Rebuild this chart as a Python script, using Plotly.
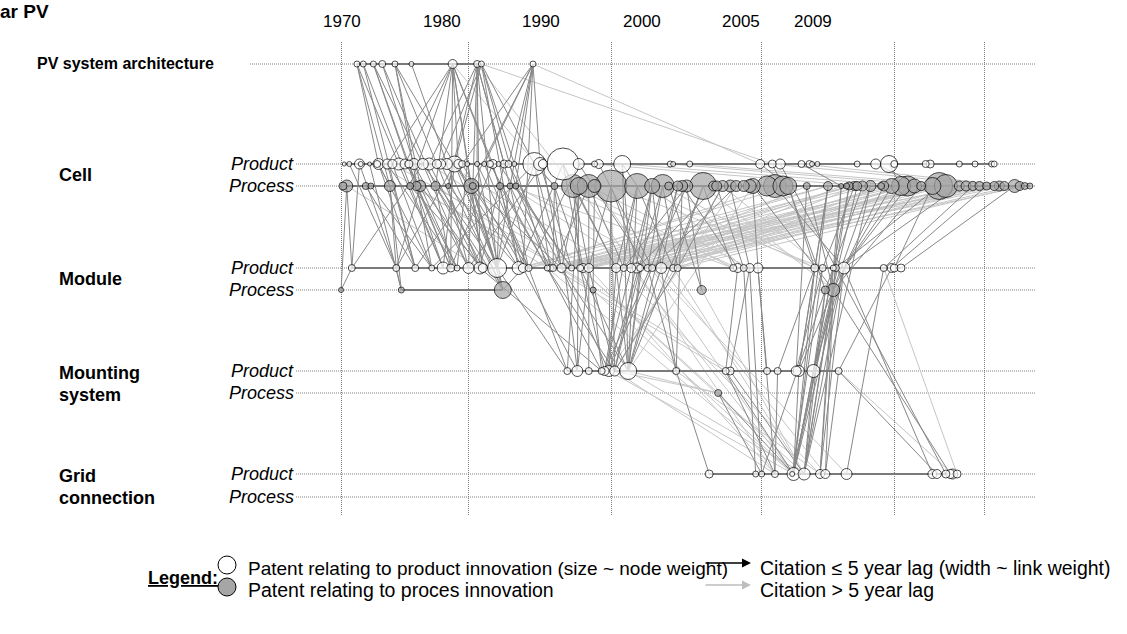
import numpy as np
import plotly.graph_objects as go

W, H = 1127, 634
ML, MR, MT, MB = 250, 92, 42, 119
FONT = "Liberation Sans, Arial, sans-serif"

# ---------------- x scale (year -> timeline position) ----------------
YEAR_ANCHORS = [1965, 1970, 1980, 1990, 2000, 2005, 2009, 2011]
POS_ANCHORS = [-63.4, 0, 126.8, 270, 420, 552.6, 642.3, 693.3]
GRID_YEARS = [1970, 1980, 1990, 2000, 2005, 2009]
TICK_LABELS = ["1970", "1980", "1990", "2000", "2005", "2009"]
LABEL_POS = [0.3, 100.3, 199.3, 300.3, 399.3, 471.3]

# ---------------- rows ----------------
ROW_LEVEL = {"A": 45.1, "CP": 35.1, "CR": 32.9, "MP": 24.7, "MR": 22.5,
             "SP": 14.4, "SR": 12.2, "GP": 4.1, "GR": 1.8}

# ---------------- nodes (year, size ~ node weight) ----------------
ARCH_Y = [1971.2, 1971.7, 1972.5, 1973.2, 1974.2, 1975.5, 1978.75, 1980.6, 1980.9, 1984.5]
ARCH_S = [6, 6, 6, 7, 6, 5, 9, 7, 6, 6]

CELL_PROD_Y = [1970.2, 1970.6, 1971.4, 1971.5, 1972.2, 1972.8, 1972.9, 1973.6, 1974.0, 1974.5,
               1975.0, 1975.3, 1975.7, 1976.4, 1976.9, 1977.5, 1977.8, 1978.3, 1978.9, 1979.2,
               1979.5, 1979.9, 1980.6, 1981.1, 1981.5, 1981.7, 1982.1, 1982.5, 1982.8, 1983.2,
               1984.6, 1985.0, 1985.2, 1986.6, 1987.7, 1988.8, 1989.1, 1990.7, 1993.9, 1994.1,
               1995.2, 1999.9, 2000.4, 2000.7, 2001.5, 2001.8, 2001.9, 2002.1, 2003.6, 2004.3,
               2004.8, 2005.0, 2006.4, 2006.6, 2007.9, 2008.6, 2009.3, 2009.4]
CELL_PROD_S = [4, 5, 10, 5, 4, 7, 11, 10, 9, 12,
               10, 8, 11, 11, 12, 9, 10, 11, 16, 9,
               7, 5, 5, 5, 7, 9, 5, 8, 7, 5,
               23, 13, 9, 32, 11, 6, 9, 17, 6, 5,
               6, 9, 8, 10, 7, 7, 5, 5, 6, 10,
               17, 7, 7, 8, 6, 6, 6, 6]

CELL_PROC_Y = [1970.1, 1970.4, 1971.9, 1972.3, 1973.8, 1975.4, 1975.9, 1976.2, 1977.4, 1978.4,
               1980.2, 1980.3, 1982.2, 1982.9, 1983.3, 1986.0, 1987.3, 1987.7, 1988.4, 1988.8,
               1989.95, 1991.7, 1992.7, 1993.4, 1993.8, 1994.4, 1994.7, 1995.0, 1996.1, 1996.8,
               1997.0, 1997.4, 1997.9, 1998.3, 1998.8, 1999.2, 1999.4, 2000.2, 2000.5, 2000.8,
               2001.0, 2001.7, 2002.5, 2003.0, 2003.2, 2003.3, 2003.5, 2003.6, 2003.8, 2004.1,
               2004.5, 2004.6, 2004.9, 2005.3, 2005.6, 2005.9, 2006.2, 2006.7, 2007.0, 2007.3,
               2007.9, 2008.2, 2008.5, 2008.8, 2009.1, 2009.4, 2009.6, 2009.8, 2010.2, 2010.4,
               2010.6, 2010.8]
CELL_PROC_S = [8, 12, 7, 6, 11, 7, 9, 11, 9, 5,
               15, 7, 7, 6, 6, 7, 23, 17, 23, 13,
               32, 25, 15, 23, 8, 10, 11, 12, 27, 10,
               10, 11, 12, 11, 11, 13, 15, 20, 23, 20,
               17, 7, 9, 5, 6, 8, 9, 9, 10, 11,
               7, 10, 15, 19, 20, 14, 9, 17, 27, 23,
               10, 10, 9, 9, 8, 9, 10, 9, 13, 9,
               7, 6]

MOD_PROD_Y = [1970.8, 1974.3, 1975.8, 1977.1, 1978.0, 1978.6, 1979.1, 1980.0, 1980.8, 1981.0,
              1982.0, 1983.5, 1983.8, 1984.2, 1985.5, 1985.7, 1985.9, 1986.5, 1987.2, 1987.8,
              1988.0, 1988.4, 1990.3, 1990.8, 1991.3, 1991.7, 1991.9, 1992.4, 1992.7, 1993.3,
              1994.1, 1994.4, 1998.1, 1998.4, 1998.8, 1999.2, 1999.75, 2002.0, 2002.3, 2002.7,
              2002.8, 2003.1, 2004.6, 2004.9, 2005.0, 2005.3]
MOD_PROD_S = [7, 7, 7, 6, 12, 8, 6, 11, 12, 9,
              19, 13, 9, 7, 6, 7, 7, 9, 6, 7,
              9, 9, 9, 7, 9, 10, 7, 7, 7, 11,
              7, 7, 7, 9, 7, 9, 10, 8, 7, 6,
              7, 12, 7, 9, 8, 8]

MOD_PROC_Y = [1969.95, 1974.7, 1982.4, 1988.7, 1996.0, 2002.4, 2002.7]
MOD_PROC_S = [5, 6, 17, 6, 9, 8, 13]

MOUNT_PROD_Y = [1986.9, 1987.6, 1988.4, 1989.3, 1989.5, 1989.8, 1990.2, 1991.1, 1994.3,
                1997.6, 1997.9, 2000.2, 2000.6, 2001.3, 2001.4, 2001.95, 2002.9]
MOUNT_PROD_S = [7, 11, 7, 7, 9, 11, 10, 17, 7, 7, 8, 7, 7, 10, 11, 13, 7]
MOUNT_PROC_Y = [1997.1]
MOUNT_PROC_S = [7]

GRID_PROD_Y = [1996.5, 1999.6, 2000.0, 2000.5, 2001.2, 2001.15, 2001.6, 2002.2, 2002.4, 2003.2,
               2006.7, 2006.9, 2007.3, 2007.5, 2007.6, 2007.8]
GRID_PROD_S = [8, 6, 6, 7, 13, 5, 12, 9, 9, 11, 9, 9, 8, 9, 10, 8]

# ---------------- within-row main-path segments ----------------
CHAINS = [("A", 1971.2, 1980.9), ("CP", 1970.2, 2009.4), ("CR", 1970.1, 2010.8),
          ("MP", 1970.8, 2005.3), ("MR", 1974.7, 1982.4), ("SP", 1986.9, 2002.9),
          ("GP", 1996.5, 2007.8)]

# ---------------- citations <= 5 year lag ----------------
DARK_EDGES = [
    ("A", 1971.2, "CP", 1972.9), ("A", 1971.2, "CR", 1973.8), ("A", 1971.2, "CP", 1974.5),
    ("A", 1971.7, "CR", 1975.4), ("A", 1971.7, "MP", 1975.8), ("A", 1972.5, "CP", 1976.4),
    ("A", 1972.5, "CR", 1975.9), ("A", 1972.5, "MP", 1978.0), ("A", 1973.2, "CP", 1975.7),
    ("A", 1973.2, "CR", 1977.4), ("A", 1974.2, "CP", 1977.5), ("A", 1974.2, "CR", 1976.2),
    ("A", 1974.2, "CP", 1978.9), ("A", 1974.2, "MP", 1977.1), ("A", 1975.5, "CP", 1978.3),
    ("A", 1978.75, "CP", 1973.6), ("A", 1978.75, "CP", 1975.0), ("A", 1978.75, "CR", 1977.4),
    ("A", 1978.75, "CP", 1979.2), ("A", 1978.75, "CR", 1980.2), ("A", 1978.75, "CP", 1981.7),
    ("A", 1978.75, "CR", 1982.2), ("A", 1978.75, "MP", 1978.6), ("A", 1978.75, "MP", 1981.0),
    ("A", 1978.75, "CR", 1975.4), ("A", 1980.6, "CP", 1976.9), ("A", 1980.6, "CR", 1978.4),
    ("A", 1980.6, "CP", 1980.6), ("A", 1980.6, "CR", 1980.3), ("A", 1980.6, "CP", 1982.5),
    ("A", 1980.6, "CR", 1982.9), ("A", 1980.6, "MP", 1980.8), ("A", 1980.6, "MP", 1982.0),
    ("A", 1980.9, "CP", 1977.8), ("A", 1980.9, "CR", 1978.4), ("A", 1980.9, "CP", 1983.2),
    ("A", 1980.9, "CR", 1983.3), ("A", 1980.9, "CP", 1984.6), ("A", 1980.9, "MP", 1983.5),
    ("A", 1984.5, "CP", 1979.5), ("A", 1984.5, "CP", 1981.1), ("A", 1984.5, "CR", 1980.2),
    ("A", 1984.5, "CP", 1982.8), ("A", 1984.5, "CR", 1982.9), ("A", 1984.5, "CP", 1985.0),
    ("A", 1984.5, "MP", 1983.8), ("A", 1984.5, "CR", 1983.3),
    ("CP", 1971.4, "MP", 1970.8), ("CP", 1971.4, "MP", 1974.3), ("CR", 1970.4, "MR", 1969.95),
    ("CR", 1970.4, "MP", 1970.8), ("CP", 1972.9, "MP", 1975.8), ("CP", 1972.9, "MP", 1977.1),
    ("CR", 1973.8, "MP", 1974.3), ("CR", 1973.8, "MR", 1974.7), ("CP", 1974.5, "MP", 1978.0),
    ("CR", 1975.9, "MP", 1978.6), ("CR", 1975.9, "MP", 1979.1), ("CP", 1976.4, "MP", 1980.0),
    ("CP", 1976.4, "MP", 1982.0), ("CR", 1977.4, "MP", 1980.8), ("CR", 1977.4, "MR", 1982.4),
    ("CP", 1978.9, "MP", 1978.0), ("CP", 1978.9, "MP", 1982.0), ("CP", 1978.9, "MP", 1983.5),
    ("CR", 1980.2, "MP", 1980.0), ("CR", 1980.2, "MP", 1981.0), ("CR", 1980.2, "MP", 1982.0),
    ("CR", 1980.2, "MR", 1982.4), ("CR", 1980.2, "MP", 1984.2), ("CP", 1979.9, "MP", 1979.1),
    ("CP", 1981.7, "MP", 1978.6), ("CP", 1981.7, "MP", 1983.8), ("CR", 1982.2, "MP", 1985.5),
    ("CR", 1982.2, "MP", 1982.0), ("CP", 1982.5, "MP", 1980.8), ("CR", 1982.9, "MP", 1985.7),
    ("CR", 1982.9, "MP", 1984.2), ("CP", 1984.6, "MP", 1982.0), ("CP", 1984.6, "MP", 1986.5),
    ("CP", 1984.6, "MP", 1977.1), ("CR", 1983.3, "MP", 1987.2), ("CP", 1985.2, "MP", 1980.0),
    ("CP", 1986.6, "MP", 1983.5), ("CP", 1986.6, "MP", 1988.0), ("CR", 1986.0, "MP", 1985.9),
    ("CR", 1987.3, "MP", 1987.8), ("CR", 1987.3, "MP", 1988.4), ("CP", 1975.0, "MP", 1980.8),
    ("CR", 1971.9, "MP", 1975.8), ("CR", 1976.2, "MP", 1974.3), ("CP", 1977.8, "MR", 1982.4),
    ("CR", 1978.4, "MP", 1983.5), ("CP", 1973.6, "MP", 1979.1), ("CR", 1975.4, "MP", 1981.0),
    ("CP", 1980.6, "MP", 1984.2), ("CP", 1983.2, "MP", 1985.5), ("CR", 1980.3, "MP", 1986.5),
    ("CP", 1982.1, "MP", 1987.2), ("CR", 1988.4, "MP", 1985.9), ("CR", 1987.7, "MP", 1986.5),
    ("CP", 1987.7, "MP", 1984.2), ("CR", 1988.8, "MR", 1988.7),
    ("CP", 1970.6, "MP", 1974.3), ("CP", 1972.2, "MR", 1974.7), ("CR", 1972.3, "MP", 1977.1),
    ("CP", 1973.6, "MP", 1975.8), ("CP", 1975.3, "MP", 1978.6), ("CP", 1975.7, "MP", 1980.0),
    ("CR", 1976.2, "MP", 1979.1), ("CP", 1976.9, "MP", 1981.0), ("CP", 1977.5, "MP", 1980.8),
    ("CR", 1978.4, "MP", 1980.0), ("CP", 1979.2, "MP", 1982.0), ("CP", 1979.5, "MP", 1983.8),
    ("CR", 1980.3, "MP", 1982.0), ("CP", 1981.1, "MP", 1984.2), ("CP", 1981.5, "MP", 1985.5),
    ("CR", 1982.2, "MP", 1983.5), ("CR", 1982.9, "MP", 1982.0), ("CP", 1982.8, "MP", 1986.5),
    ("CP", 1984.6, "MP", 1985.7), ("CP", 1985.0, "MP", 1987.2), ("CR", 1983.3, "MP", 1985.9),
    ("CP", 1978.3, "MR", 1982.4), ("CP", 1980.6, "MR", 1982.4), ("CR", 1975.4, "MP", 1978.0),
    ("CP", 1974.0, "MP", 1977.1), ("CR", 1977.4, "MP", 1978.6), ("CP", 1985.2, "MP", 1986.5),
    ("CR", 1986.0, "MP", 1988.0), ("CP", 1978.9, "MP", 1974.3), ("CR", 1980.2, "MP", 1975.8),
    ("CP", 1976.4, "MP", 1970.8),
    ("MR", 1969.95, "MP", 1970.8), ("MP", 1974.3, "MR", 1974.7), ("MR", 1982.4, "MP", 1983.8),
    ("MP", 1985.5, "SP", 1989.3), ("MP", 1985.5, "SP", 1990.2), ("MP", 1986.5, "SP", 1989.8),
    ("MP", 1986.5, "SP", 1991.1), ("MP", 1987.8, "SP", 1989.5), ("MP", 1987.8, "SP", 1991.1),
    ("MP", 1988.4, "SP", 1990.2), ("MP", 1988.4, "SP", 1987.6), ("MP", 1990.3, "SP", 1989.8),
    ("MP", 1990.3, "SP", 1991.1), ("MP", 1991.3, "SP", 1989.5), ("MP", 1991.9, "SP", 1990.2),
    ("MP", 1991.9, "SP", 1991.1), ("MP", 1992.7, "SP", 1989.8), ("MP", 1993.3, "SP", 1991.1),
    ("MP", 1993.3, "SP", 1994.3), ("MP", 1994.4, "SP", 1990.2), ("MR", 1988.7, "SP", 1989.3),
    ("CR", 1987.7, "SP", 1986.9), ("CR", 1987.7, "SP", 1987.6), ("CR", 1988.4, "SP", 1988.4),
    ("CR", 1989.95, "SP", 1989.8), ("CR", 1989.95, "SP", 1990.2), ("CR", 1991.7, "SP", 1989.5),
    ("CR", 1991.7, "SP", 1991.1), ("CR", 1992.7, "SP", 1991.1), ("CR", 1992.7, "SP", 1990.2),
    ("CR", 1993.4, "SP", 1989.8), ("CR", 1994.4, "SP", 1991.1), ("CR", 1995.0, "SP", 1989.5),
    ("CR", 1996.1, "SP", 1991.1), ("CP", 1990.7, "SP", 1991.1), ("MP", 1984.2, "SP", 1986.9),
    ("CR", 1986.0, "SP", 1987.6), ("MP", 1982.0, "SP", 1986.9), ("MP", 1983.8, "SP", 1987.6),
    ("MP", 1980.8, "SP", 1989.3), ("CR", 1994.7, "SP", 1994.3), ("MP", 1992.4, "SP", 1994.3),
    ("SR", 1997.1, "GP", 2001.2), ("GP", 1996.5, "SP", 1994.3), ("SR", 1997.1, "GP", 2000.0),
    ("MP", 1990.3, "CR", 1991.7), ("MP", 1991.3, "CR", 1992.7), ("MP", 1992.4, "CR", 1993.4),
    ("MP", 1993.3, "CR", 1994.4), ("MP", 1994.1, "CR", 1996.1), ("MP", 1994.4, "CR", 1997.4),
    ("MP", 1988.4, "CR", 1989.95), ("MP", 1990.8, "CR", 1995.0), ("MP", 1991.7, "CR", 1997.0),
    ("MP", 1992.7, "CR", 1998.3),
    ("CP", 1986.6, "MP", 1990.3), ("CP", 1990.7, "MP", 1991.3), ("CP", 1987.7, "MP", 1992.4),
    ("CR", 1988.4, "MP", 1990.8), ("CR", 1992.7, "MP", 1993.3), ("CR", 1989.95, "MP", 1991.9),
    ("CR", 1991.7, "MP", 1994.1), ("CR", 1987.3, "MP", 1990.3), ("CP", 1989.1, "MP", 1992.7),
    ("CR", 1993.4, "MP", 1994.4),
    ("CR", 1996.1, "MP", 1998.1), ("CR", 1997.0, "MP", 1998.8), ("CR", 1994.7, "MP", 1998.4),
    ("CR", 1997.9, "MP", 1999.2), ("CR", 1999.4, "MP", 1999.75), ("CR", 1993.8, "MR", 1996.0),
    ("CR", 1995.0, "MR", 1996.0),
    ("MP", 2002.3, "CR", 2003.5), ("MR", 2002.7, "CR", 2004.1), ("MP", 2003.1, "CR", 2004.9),
    ("MP", 2003.1, "CR", 2005.6), ("MR", 2002.7, "CR", 2006.2), ("MP", 2002.8, "CR", 2007.0),
    ("MP", 2003.1, "CR", 2007.9), ("MP", 2002.7, "CR", 2003.0), ("MR", 2002.4, "CR", 2003.8),
    ("MP", 2004.6, "CR", 2008.5), ("MP", 2004.9, "CR", 2009.1), ("MP", 2005.3, "CR", 2010.2),
    ("MP", 2005.0, "CR", 2006.7), ("MP", 2002.0, "CR", 2001.0), ("MP", 2002.0, "CR", 2002.5),
    ("MR", 2002.7, "CR", 2001.7), ("CR", 1999.4, "MR", 2002.7), ("CR", 2000.5, "MP", 2003.1),
    ("CR", 2001.0, "MR", 2002.4), ("CP", 2000.7, "MP", 2002.8), ("MP", 2003.1, "CR", 2005.3),
    ("MR", 2002.7, "CR", 2004.6), ("MP", 2002.8, "CR", 2003.3),
    ("GP", 2001.2, "MR", 2002.7), ("GP", 2001.2, "MP", 2003.1), ("GP", 2001.6, "MP", 2002.8),
    ("GP", 2001.6, "MR", 2002.4), ("GP", 2001.15, "MP", 2002.3), ("GP", 2000.5, "MP", 1999.75),
    ("GP", 2002.2, "MP", 2003.1), ("GP", 2002.4, "MR", 2002.7), ("GP", 2003.2, "MP", 2004.6),
    ("GP", 2000.0, "MP", 1999.2), ("GP", 1999.6, "MP", 1998.8), ("GP", 2001.2, "CR", 2003.3),
    ("GP", 2001.6, "CR", 2004.1), ("GP", 2001.2, "CR", 2002.5), ("GP", 2002.2, "CR", 2003.0),
    ("GP", 2001.6, "SP", 2001.95), ("GP", 2001.2, "SP", 2001.4), ("GP", 2000.5, "SP", 2000.6),
    ("GP", 2002.4, "SP", 2002.9), ("SP", 2001.95, "MP", 2003.1), ("SP", 2001.4, "MR", 2002.7),
    ("SP", 2001.3, "MP", 2002.3), ("SP", 2000.2, "MP", 1999.75), ("SP", 2002.9, "MP", 2004.9),
    ("SP", 1997.6, "MP", 1998.4), ("SP", 1997.9, "MP", 1999.2), ("SP", 2001.95, "CR", 2003.6),
    ("SP", 2001.4, "CR", 2002.5), ("GP", 2001.2, "MP", 2002.7), ("GP", 2001.6, "MP", 2003.1),
    ("GP", 2001.15, "MR", 2002.7), ("GP", 2001.2, "MP", 2002.0), ("GP", 2001.6, "MR", 2002.7),
    ("GP", 2000.0, "MR", 2002.4), ("GP", 2002.2, "MP", 2002.7), ("SP", 2001.4, "MP", 2002.0),
    ("SP", 2001.95, "MR", 2002.4), ("SP", 2001.3, "CR", 2001.7), ("SP", 2000.6, "MP", 2002.0),
    ("SP", 1997.6, "GP", 2001.2), ("SP", 1997.9, "GP", 2001.6), ("SP", 1997.6, "GP", 2000.5),
    ("MP", 2003.1, "GP", 2006.7), ("SP", 2002.9, "GP", 2006.9), ("MP", 2002.8, "GP", 2007.3),
    ("MR", 2002.7, "GP", 2007.5),
    ("CP", 1984.6, "CR", 1986.0), ("CP", 1986.6, "CR", 1987.3), ("CP", 1990.7, "CR", 1991.7),
    ("CP", 2004.8, "CR", 2005.3), ("CP", 2000.4, "CR", 2000.8), ("CP", 1999.9, "CR", 2001.0),
    ("CP", 2001.5, "CR", 2003.0), ("CP", 2004.3, "CR", 2006.2), ("CP", 1978.9, "CR", 1980.2),
    ("CP", 1972.9, "CR", 1973.8),
]

# ---------------- citations > 5 year lag ----------------
LIGHT_EDGES = [
    ("A", 1980.9, "CP", 2000.4), ("A", 1984.5, "CP", 1999.9), ("A", 1978.75, "CR", 1986.0),
    ("A", 1980.6, "CR", 1987.3),
    ("CP", 1972.9, "MP", 1985.5), ("CR", 1975.4, "MP", 1986.5), ("CP", 1974.0, "MP", 1987.8),
    ("CR", 1970.4, "MP", 1980.8), ("CP", 1976.9, "MP", 1988.4), ("CR", 1977.4, "MR", 1988.7),
    ("CP", 1978.3, "MP", 1990.3),
    ("CR", 1997.4, "SP", 1990.2), ("CR", 1999.4, "SP", 1991.1), ("CR", 1998.3, "SP", 1989.8),
    ("MP", 1985.9, "SP", 1997.6), ("MP", 1986.5, "SP", 1997.9), ("SP", 1990.2, "SR", 1997.1),
    ("SP", 1991.1, "SR", 1997.1), ("MP", 1987.8, "SR", 1997.1),
    ("MP", 1985.5, "CR", 2003.8), ("MP", 1985.9, "CR", 2005.3), ("MP", 1986.5, "CR", 2006.7),
    ("MP", 1987.2, "CR", 2007.0), ("MP", 1987.8, "CR", 2008.2), ("MP", 1988.0, "CR", 2009.1),
    ("MP", 1988.4, "CR", 2009.6), ("MP", 1990.3, "CR", 2004.6), ("MP", 1990.8, "CR", 2005.6),
    ("MP", 1991.3, "CR", 2007.3), ("MP", 1991.7, "CR", 2008.5), ("MP", 1992.4, "CR", 2009.4),
    ("MP", 1992.7, "CR", 2010.2), ("MP", 1993.3, "CR", 2006.2), ("MP", 1994.1, "CR", 2008.8),
    ("MP", 1994.4, "CR", 2010.4), ("MP", 1985.7, "CR", 2002.5), ("MP", 1986.5, "CR", 2003.3),
    ("MP", 1988.4, "CR", 2004.9), ("MP", 1990.3, "CR", 2001.7), ("MP", 1991.9, "CR", 2003.0),
    ("MP", 1983.8, "CR", 2001.0), ("MP", 1984.2, "CR", 2000.5), ("MP", 1992.4, "CR", 2005.9),
    ("MP", 1993.3, "CR", 2007.9),
    ("MP", 1983.5, "CR", 2002.5), ("MP", 1984.2, "CR", 2003.5), ("MP", 1985.5, "CR", 2005.9),
    ("MP", 1985.7, "CR", 2007.3), ("MP", 1985.9, "CR", 2008.5), ("MP", 1986.5, "CR", 2009.4),
    ("MP", 1987.2, "CR", 2004.1), ("MP", 1987.8, "CR", 2005.6), ("MP", 1988.0, "CR", 2006.7),
    ("MP", 1990.8, "CR", 2008.8), ("MP", 1991.3, "CR", 2009.8), ("MP", 1991.9, "CR", 2010.6),
    ("MP", 1992.7, "CR", 2003.6), ("MP", 1994.4, "CR", 2004.5), ("MP", 1990.3, "CR", 2007.0),
    ("MP", 1988.4, "CR", 2003.3),
    ("CR", 1996.1, "MR", 2002.7), ("CR", 1997.4, "MP", 2002.3), ("CR", 1993.4, "MP", 2002.0),
    ("CR", 1987.3, "MP", 1998.1), ("CR", 1988.4, "MP", 1999.2), ("CR", 1989.95, "MP", 2002.3),
    ("CR", 1991.7, "MP", 2002.0), ("CR", 1992.7, "MP", 1998.8), ("CR", 1986.0, "MP", 1998.4),
    ("CR", 1982.9, "MP", 1998.1),
    ("MP", 1985.5, "GP", 2001.2), ("MP", 1987.8, "GP", 2001.6), ("MP", 1990.3, "GP", 2002.2),
    ("MP", 1991.3, "GP", 2001.2), ("MP", 1992.7, "GP", 2003.2), ("MP", 1994.1, "GP", 2001.6),
    ("MP", 1988.4, "GP", 2000.5), ("MP", 1993.3, "GP", 2002.4), ("SP", 1989.8, "GP", 2001.2),
    ("SP", 1991.1, "GP", 2001.6), ("SP", 1990.2, "GP", 2000.5), ("SP", 1994.3, "GP", 2002.2),
    ("MR", 1988.7, "GP", 2001.2), ("MR", 1996.0, "GP", 2001.6), ("CR", 1988.8, "GP", 2001.2),
    ("CR", 1987.7, "GP", 2000.5),
    ("SP", 2002.9, "GP", 2007.6), ("MP", 2004.6, "GP", 2007.8),
    ("CP", 1990.7, "CR", 2005.6), ("CP", 1993.9, "CR", 2007.0), ("CP", 1995.2, "CR", 2008.2),
    ("CP", 2000.4, "CR", 2009.6), ("CP", 2001.5, "CR", 2010.2), ("CP", 1988.8, "CR", 2003.8),
    ("CR", 1983.3, "MP", 1993.3), ("CR", 1982.9, "MP", 1991.7),
]


def pos(years):
    return np.interp(years, YEAR_ANCHORS, POS_ANCHORS)


def edge_xy(edges):
    xs, ys = [], []
    for ra, ya, rb, yb in edges:
        xs += [float(pos(ya)), float(pos(yb)), None]
        ys += [ROW_LEVEL[ra], ROW_LEVEL[rb], None]
    return xs, ys


fig = go.Figure()

lx, ly = edge_xy(LIGHT_EDGES)
fig.add_trace(go.Scatter(x=lx, y=ly, mode="lines", line=dict(color="#c6c6c6", width=1),
                         hoverinfo="skip", showlegend=False))
dx, dy = edge_xy(DARK_EDGES)
fig.add_trace(go.Scatter(x=dx, y=dy, mode="lines", line=dict(color="#888888", width=1),
                         hoverinfo="skip", showlegend=False))

cx, cy = [], []
for r, y0, y1 in CHAINS:
    cx += [float(pos(y0)), float(pos(y1)), None]
    cy += [ROW_LEVEL[r], ROW_LEVEL[r], None]
fig.add_trace(go.Scatter(x=cx, y=cy, mode="lines", line=dict(color="#7a7a7a", width=2),
                         hoverinfo="skip", showlegend=False))


def node_trace(groups, fill):
    yrs, lev, siz = [], [], []
    for row, years, sizes in groups:
        yrs += list(years)
        lev += [ROW_LEVEL[row]] * len(years)
        siz += list(sizes)
    order = np.argsort(-np.array(siz), kind="stable")
    return go.Scatter(
        x=pos(np.array(yrs)[order]), y=np.array(lev)[order], mode="markers",
        marker=dict(size=np.array(siz)[order], color=fill, line=dict(color="black", width=1)),
        hoverinfo="skip", showlegend=False)


fig.add_trace(node_trace([("CR", CELL_PROC_Y, CELL_PROC_S), ("MR", MOD_PROC_Y, MOD_PROC_S),
                          ("SR", MOUNT_PROC_Y, MOUNT_PROC_S)], "#a6a6a6"))
fig.add_trace(node_trace([("A", ARCH_Y, ARCH_S), ("CP", CELL_PROD_Y, CELL_PROD_S),
                          ("MP", MOD_PROD_Y, MOD_PROD_S), ("SP", MOUNT_PROD_Y, MOUNT_PROD_S),
                          ("GP", GRID_PROD_Y, GRID_PROD_S)], "white"))


def pxp(x):
    return (x - ML) / (W - ML - MR)


def pyp(y):
    return (H - MB - y) / (H - MT - MB)


shapes = []
for r, lvl in ROW_LEVEL.items():
    shapes.append(dict(type="line", xref="paper", yref="y", x0=0 if r == "A" else pxp(296), x1=1,
                       y0=lvl, y1=lvl, layer="below",
                       line=dict(color="#7f7f7f", width=1, dash="1px,1px")))

# legend circles
for cyp, fill in [(565, "white"), (587, "#a6a6a6")]:
    shapes.append(dict(type="circle", xref="paper", yref="paper", xsizemode="pixel",
                       ysizemode="pixel", xanchor=pxp(227), yanchor=pyp(cyp),
                       x0=-9, x1=9, y0=-9, y1=9, fillcolor=fill,
                       line=dict(color="black", width=1)))

ann = []
for lp, t in zip(LABEL_POS, TICK_LABELS):
    ann.append(dict(x=lp, xref="x", y=pyp(22), yref="paper", text=t, showarrow=False,
                    font=dict(size=17, color="black"), xanchor="center", yanchor="middle"))


def txt(x, y, t, size=18, anchor="left", **kw):
    ann.append(dict(x=pxp(x), y=pyp(y), xref="paper", yref="paper", text=t, showarrow=False,
                    xanchor=anchor, yanchor="middle", font=dict(size=size, color="black"), **kw))


txt(-2, 12, "<b>ar PV</b>", size=19)
txt(216, 64, "<b>PV system architecture</b>", size=16, anchor="right")
txt(57, 175, "<b>Cell</b>")
txt(57, 279, "<b>Module</b>")
txt(57, 373, "<b>Mounting</b>")
txt(57, 395, "<b>system</b>")
txt(57, 476, "<b>Grid</b>")
txt(57, 498, "<b>connection</b>")
for r in ["CP", "MP", "SP", "GP"]:
    ann.append(dict(x=pxp(296), xref="paper", y=ROW_LEVEL[r], yref="y", text="<i>Product</i>",
                    showarrow=False, xanchor="right", yanchor="middle",
                    font=dict(size=18, color="black")))
for r in ["CR", "MR", "SR", "GR"]:
    ann.append(dict(x=pxp(296), xref="paper", y=ROW_LEVEL[r], yref="y", text="<i>Process</i>",
                    showarrow=False, xanchor="right", yanchor="middle",
                    font=dict(size=18, color="black")))

txt(146, 578, "<b><u>Legend:</u></b>")
txt(246, 568, "Patent relating to product innovation (size ~ node weight)", size=19)
txt(246, 590, "Patent relating to proces innovation", size=19.5)
txt(758, 568, "Citation ≤ 5 year lag (width ~ link weight)", size=19.5)
txt(758, 590, "Citation > 5 year lag", size=19.5)
for ay, col in [(563, "black"), (585, "#bdbdbd")]:
    ann.append(dict(x=pxp(751), y=pyp(ay), xref="paper", yref="paper", text="", showarrow=True,
                    ax=-47, ay=0, arrowhead=2, arrowsize=1.2, arrowwidth=1.5, arrowcolor=col))

fig.update_layout(
    width=W, height=H, margin=dict(l=ML, r=MR, t=MT, b=MB),
    paper_bgcolor="white", plot_bgcolor="white",
    font=dict(family=FONT, color="black"),
    showlegend=False, shapes=shapes, annotations=ann,
    xaxis=dict(range=[-91.7, 693.3], tickvals=pos(GRID_YEARS), showticklabels=False,
               showgrid=True, gridcolor="#7f7f7f", griddash="1px,1px", gridwidth=1,
               zeroline=False, showline=False, ticks="", fixedrange=True),
    yaxis=dict(range=[0, 47.3], showgrid=False, showticklabels=False, zeroline=False,
               showline=False, ticks="", fixedrange=True),
)

fig.write_html("out.html", config={"displayModeBar": False},
               post_script="document.body.style.margin='0px';document.body.style.overflow='hidden';")
